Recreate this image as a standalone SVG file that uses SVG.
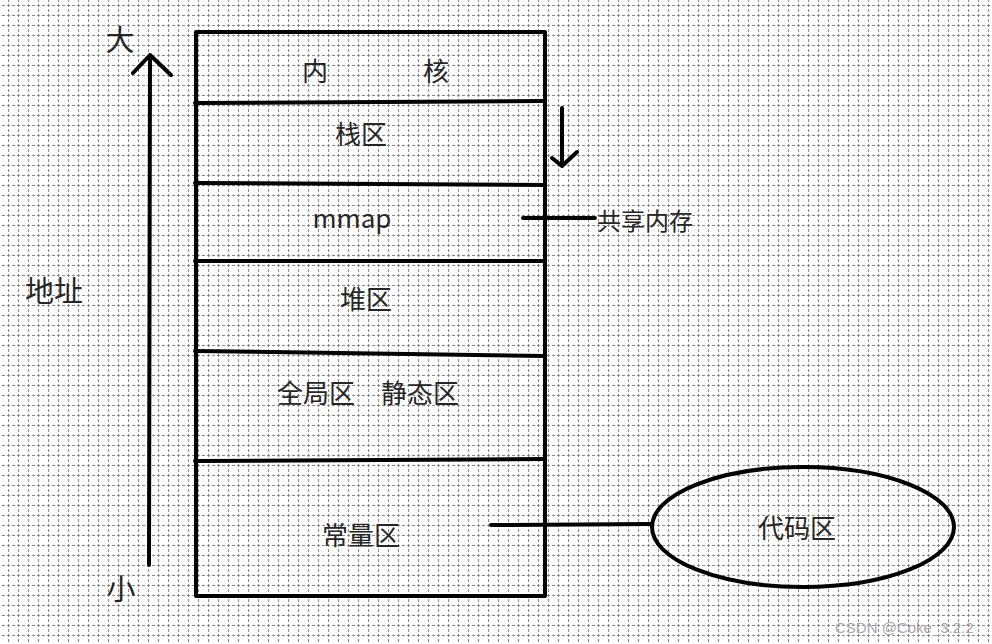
<svg xmlns="http://www.w3.org/2000/svg" width="992" height="644" viewBox="0 0 992 644">
  <style>
    .t { font-family: "Noto Sans CJK SC", "Noto Sans", sans-serif; fill: #262626; dominant-baseline: central; text-anchor: middle; }
    .m { font-size: 26px; }
    .s { font-size: 24px; }
    .b { font-size: 29px; }
    .ln { stroke: #000; stroke-width: 4; fill: none; stroke-linecap: round; stroke-linejoin: round; }
    .wm { font-family: "Liberation Sans", Arial, sans-serif; font-size: 15px; fill: #a8a8a8; }
  </style>
  <defs>
    <pattern id="grid" x="6" y="3" width="10" height="10" patternUnits="userSpaceOnUse">
      <rect x="1" y="2" width="3" height="1" fill="#8a8a8a"/>
      <rect x="6" y="2" width="3" height="1" fill="#8a8a8a"/>
      <rect x="2" y="1" width="1" height="3" fill="#8a8a8a"/>
      <rect x="2" y="6" width="1" height="3" fill="#8a8a8a"/>
    </pattern>
  </defs>
  <rect width="992" height="644" fill="#ffffff"/>
  <rect width="992" height="644" fill="url(#grid)"/>

  <g id="memory-stack">
    <rect x="196" y="32" width="349" height="564" class="ln" stroke-linecap="butt"/>
    <line x1="195" y1="103" x2="545" y2="101" class="ln"/>
    <line x1="195" y1="183" x2="545" y2="185" class="ln"/>
    <line x1="195" y1="261" x2="545" y2="261" class="ln"/>
    <line x1="195" y1="351" x2="545" y2="356" class="ln"/>
    <line x1="195" y1="461" x2="545" y2="459" class="ln"/>
  </g>

  <g id="kernel"><text class="t m" x="315" y="69">内</text><text class="t m" x="436" y="69">核</text></g>
  <g id="stack"><text class="t m" x="361" y="132">栈区</text></g>
  <g id="mmap"><text class="t m" x="352" y="216">mmap</text></g>
  <g id="heap"><text class="t m" x="366" y="297">堆区</text></g>
  <g id="global-static"><text class="t m" x="316" y="391">全局区</text><text class="t m" x="420" y="391">静态区</text></g>
  <g id="const"><text class="t m" x="361" y="533">常量区</text></g>

  <g id="shared-memory"><text class="t s" x="645" y="219">共享内存</text></g>

  <g id="code">
    <ellipse cx="803" cy="527" rx="151" ry="60" class="ln"/>
    <text class="t m" x="797" y="526">代码区</text>
  </g>

  <g id="address-labels">
    <text class="t b" x="120" y="38">大</text>
    <text class="t b" x="121" y="587">小</text>
    <text class="t b" x="54" y="289">地址</text>
  </g>

  <g id="connectors">
    <path d="M149 565 L150 55 M133 73 L150 55 L171 75" class="ln" stroke-width="5"/>
    <path d="M562 108 L562 165 M552 158 L562 166 L577 152" class="ln"/>
    <line x1="523" y1="218" x2="595" y2="218" class="ln"/>
    <line x1="491" y1="525" x2="652" y2="524" class="ln"/>
  </g>

  <text class="wm" x="835" y="633">CSDN @Coke_3.2.2</text>
</svg>
